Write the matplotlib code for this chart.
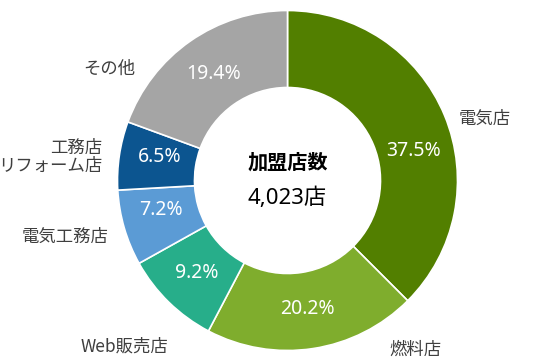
import matplotlib
matplotlib.use("Agg")
import matplotlib.pyplot as plt
import numpy as np

plt.rcParams['font.family'] = ['Noto Sans CJK JP', 'DejaVu Sans']

categories = ["電気店", "燃料店", "Web販売店", "電気工務店", "工務店\nリフォーム店", "その他"]
shares = [37.5, 20.2, 9.2, 7.2, 6.5, 19.4]
colors = ["#527f00", "#7fad2d", "#27ae8a", "#5b9bd5", "#0c5590", "#a5a5a5"]
center_title = "加盟店数"
center_value = "4,023店"

W, H = 558, 361
fig = plt.figure(figsize=(W / 100, H / 100), dpi=100)
ax = fig.add_axes([0, 0, 1, 1])
ax.set_xlim(0, W)
ax.set_ylim(0, H)
ax.set_aspect('equal')
ax.axis('off')

cx, cy = 287.5, H - 180.5
R = 170
ring = 77

wedges, _ = ax.pie(shares, colors=colors, startangle=90, counterclock=False,
                   center=(cx, cy), radius=R,
                   wedgeprops=dict(width=ring, edgecolor='white', linewidth=1.2))
ax.set_xlim(0, W)
ax.set_ylim(0, H)

# percentage labels
pct_r = R - ring / 2 - 2
angle_adjust = [-9.5, 0, 0, -3, -2, 0]
for w, v, da in zip(wedges, shares, angle_adjust):
    ang = np.deg2rad((w.theta1 + w.theta2) / 2 + da)
    ax.text(cx + pct_r * np.cos(ang), cy + pct_r * np.sin(ang), f"{v}%",
            color='white', fontsize=14, ha='center', va='center',
            family=['Noto Sans', 'Noto Sans CJK JP'])

# category labels (pixel positions of text anchor)
label_pos = [(459, 119, 'left'), (389, 350, 'left'), (168, 347, 'right'),
             (109, 237, 'right'), (102, 157, 'right'), (135, 69, 'right')]
for name, (x, y, ha) in zip(categories, label_pos):
    ax.text(x, H - y, name, color='#3f3f3f', fontsize=12.5, ha=ha, va='center',
            linespacing=1.0)

ax.text(cx, H - 162, center_title, fontsize=14.5, fontweight='bold',
        ha='center', va='center', color='black')
ax.text(cx, H - 198, center_value, fontsize=16, ha='center', va='center',
        color='black', family=['Noto Sans', 'Noto Sans CJK JP'])

fig.savefig("out.png", dpi=100)
